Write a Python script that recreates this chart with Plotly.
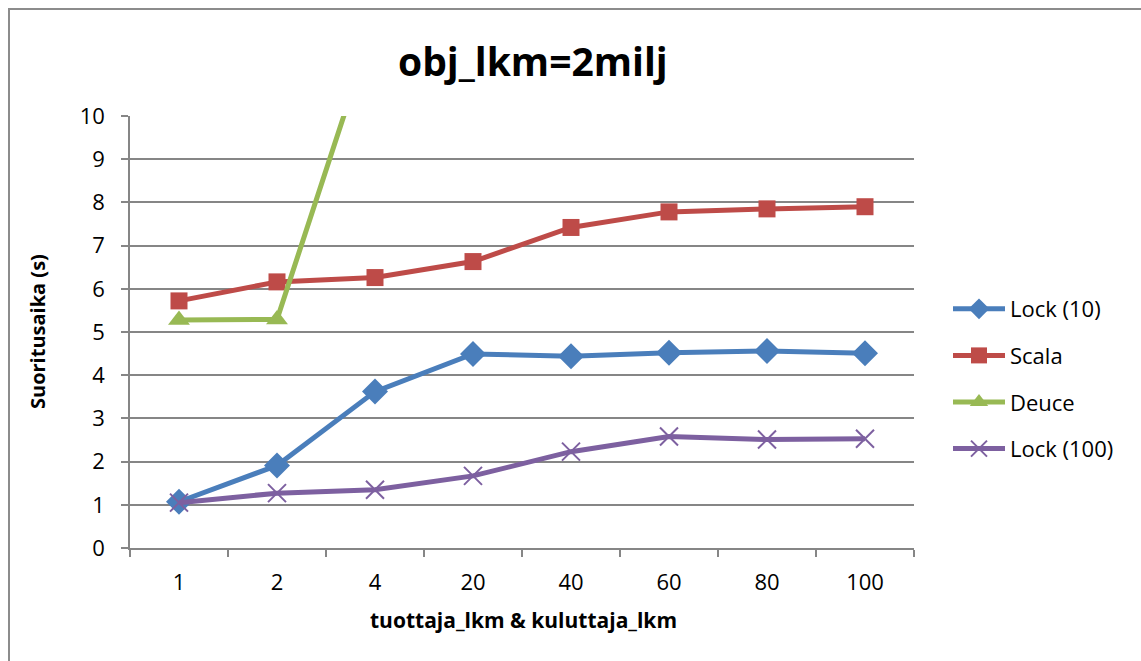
import plotly.graph_objects as go

# Thread counts (producers & consumers) on the category axis
categories = ["1", "2", "4", "20", "40", "60", "80", "100"]

# Execution times in seconds
lock_10 = [1.07, 1.91, 3.62, 4.49, 4.44, 4.52, 4.56, 4.51]
scala = [5.72, 6.16, 6.26, 6.63, 7.42, 7.78, 7.85, 7.90]
deuce = [5.28, 5.29, 12.2, None, None, None, None, None]
lock_100 = [1.05, 1.27, 1.35, 1.67, 2.23, 2.58, 2.51, 2.53]

series = [
    ("Lock (10)", lock_10, "#4A7EBB", "diamond", 20),
    ("Scala", scala, "#BE4B48", "square", 17),
    ("Deuce", deuce, "#98B954", "triangle-up", 19),
    ("Lock (100)", lock_100, "#7D60A0", "x-thin", 18),
]

FONT = "Open Sans, Liberation Sans, sans-serif"
W, H = 1141, 661
L, R, T, B = 130, 227, 116, 113
PW, PH = W - L - R, H - T - B

fig = go.Figure()
for name, vals, color, symbol, size in series:
    marker = dict(symbol=symbol, size=size, color=color,
                  line=dict(color=color, width=2 if symbol == "x-thin" else 0))
    fig.add_trace(go.Scatter(
        x=categories, y=vals, name=name, mode="lines+markers",
        line=dict(color=color, width=5), marker=marker,
        legendgroup=name, connectgaps=False,
    ))


def px_x(px):
    return (px - L) / PW


def px_y(py):
    return (H - B - py) / PH


fig.update_layout(
    width=W, height=H,
    margin=dict(l=L, r=R, t=T, b=B),
    paper_bgcolor="white", plot_bgcolor="white",
    font=dict(family=FONT, size=22, color="black"),
    showlegend=True,
    legend=dict(
        x=px_x(948), y=px_y(288), xanchor="left", yanchor="top",
        font=dict(family=FONT, size=22, color="black"),
        tracegroupgap=15, itemwidth=52, bgcolor="rgba(0,0,0,0)",
    ),
    xaxis=dict(
        type="category", range=[-0.5, 7.5],
        showgrid=False, showline=True, linecolor="#868686", linewidth=1.5,
        ticks="outside", ticklen=7, tickcolor="#868686", tickwidth=1.5,
        tickson="boundaries", ticklabelstandoff=14,
        tickfont=dict(family=FONT, size=22, color="black"),
        zeroline=False,
    ),
    yaxis=dict(
        range=[0, 10], dtick=1,
        showgrid=True, gridcolor="#868686", gridwidth=1.5,
        showline=True, linecolor="#868686", linewidth=1.5,
        ticks="outside", ticklen=7, tickcolor="#868686", tickwidth=1.5,
        tickfont=dict(family=FONT, size=22, color="black"),
        zeroline=False, ticklabelstandoff=12,
    ),
    annotations=[
        dict(text="<b>obj_lkm=2milj</b>", x=px_x(533), y=px_y(61),
             xref="paper", yref="paper", showarrow=False,
             xanchor="center", yanchor="middle",
             font=dict(family=FONT, size=39, color="black")),
        dict(text="<b>tuottaja_lkm & kuluttaja_lkm</b>", x=px_x(523), y=px_y(620),
             xref="paper", yref="paper", showarrow=False,
             xanchor="center", yanchor="middle",
             font=dict(family=FONT, size=21, color="black")),
        dict(text="<b>Suoritusaika (s)</b>", x=px_x(37), y=px_y(332),
             xref="paper", yref="paper", showarrow=False, textangle=-90,
             xanchor="center", yanchor="middle",
             font=dict(family=FONT, size=20, color="black")),
    ],
    shapes=[
        dict(type="rect", xref="paper", yref="paper",
             x0=px_x(9), y0=px_y(700), x1=px_x(1200), y1=px_y(9),
             line=dict(color="#8C8C8C", width=2), layer="below"),
    ],
)

fig.write_html("out.html")
